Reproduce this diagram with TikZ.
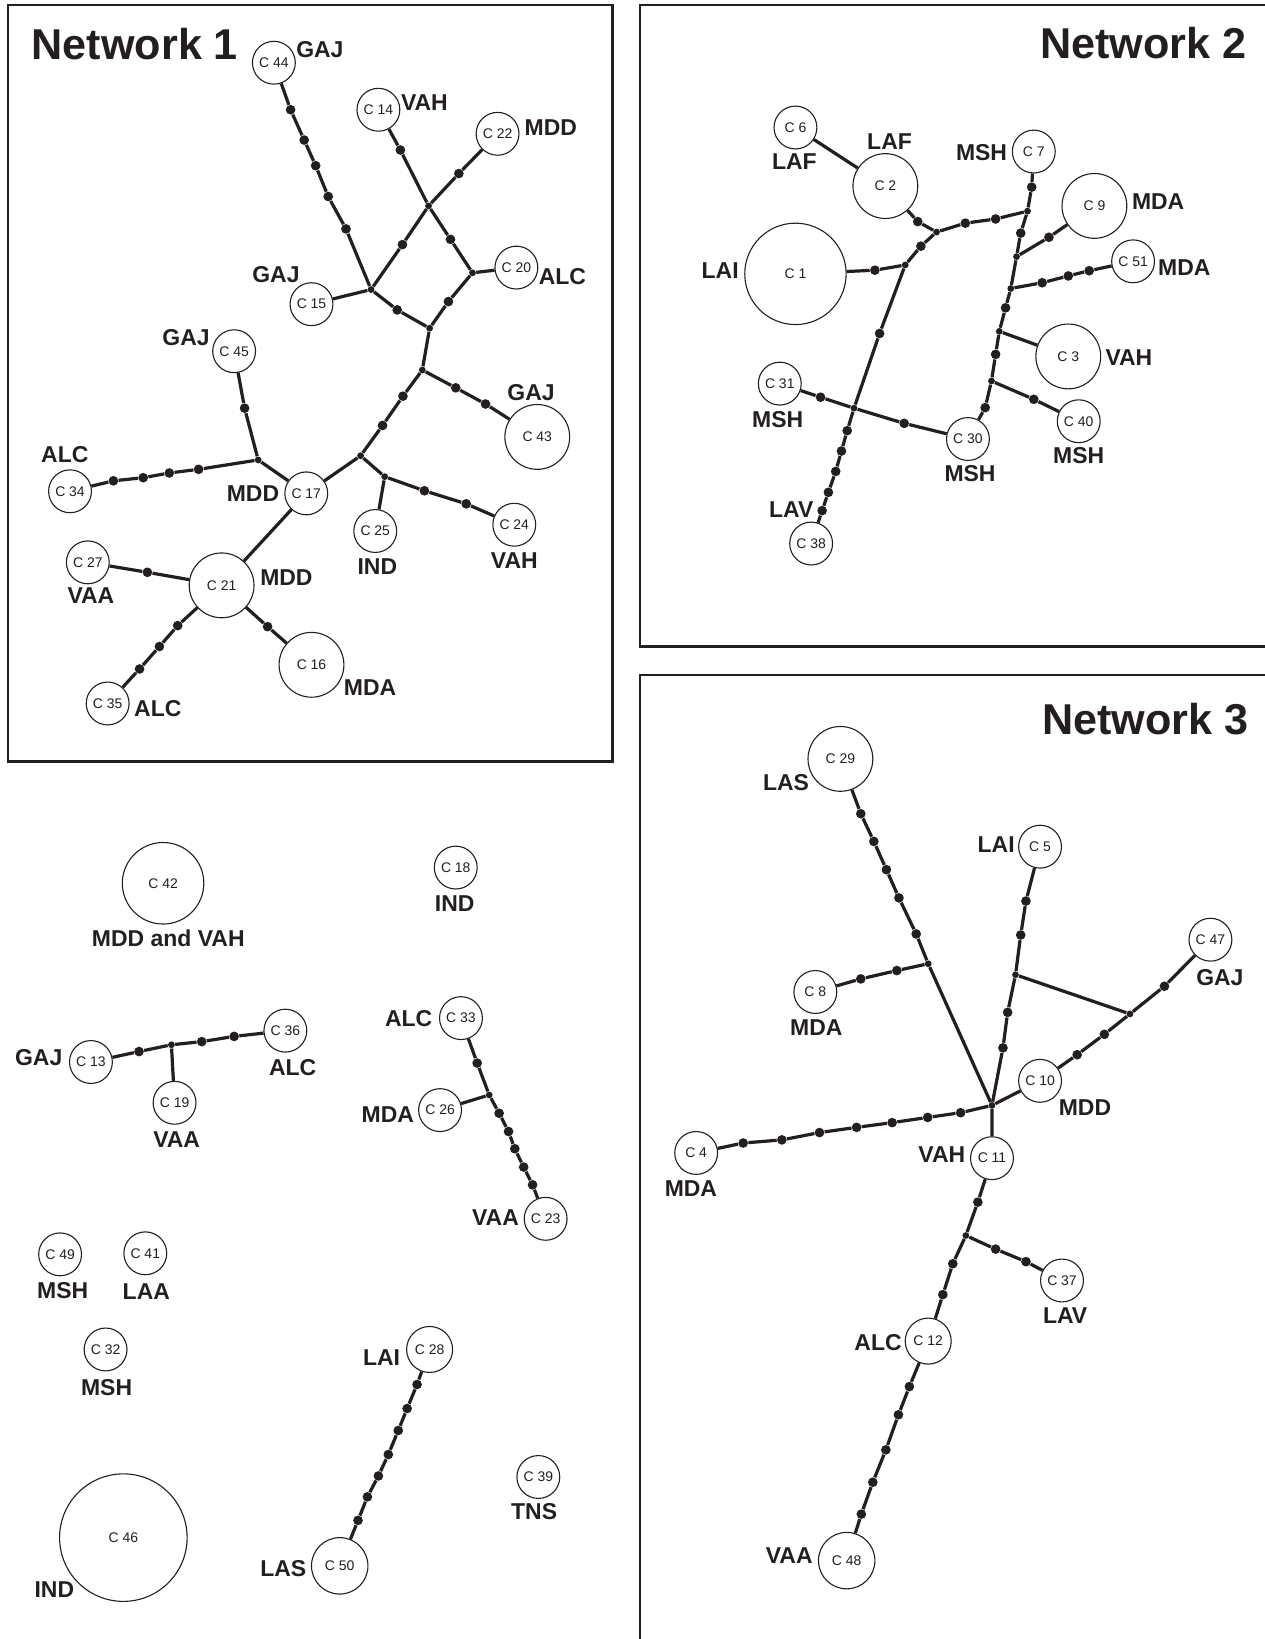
\documentclass[tikz,border=0pt]{standalone}
\usepackage{fontspec}
\setmainfont{Liberation Sans}
\usepackage{tikz}
\definecolor{ink}{HTML}{231F20}

\begin{document}
\begin{tikzpicture}[
    x=0.2mm, y=-0.2mm,
    hap/.style={circle, draw=ink, line width=0.6pt, fill=white, inner sep=0pt, minimum size=#1, text=ink, font=\fontsize{7.6}{8}\selectfont},
    hap/.default=8.2mm,
    mut/.style={circle, fill=ink, inner sep=0pt, minimum size=1.85mm},
    junc/.style={circle, fill=ink, inner sep=0pt, minimum size=1.3mm},
    link/.style={draw=ink, line width=1.75pt},
    poplabel/.style={inner sep=0pt, text=ink, font=\bfseries\fontsize{12.5}{14}\selectfont},
    nettitle/.style={inner sep=0pt, text=ink, font=\bfseries\fontsize{23.5}{26}\selectfont},
    netframe/.style={draw=ink, line width=1.4pt}
  ]
    \useasboundingbox (0,0) rectangle (1210,1568);
    \clip (0,0) rectangle (1210,1568);

    \draw[netframe] (7.6,4.8) rectangle (586,728.5);
    \draw[netframe] (612.3,4.8) rectangle (1240,618.5);
    \draw[netframe] (612.2,645.6) rectangle (1240,1600);
    \node[nettitle, anchor=west] (net1) at (30,42) {Network 1};
    \node[nettitle, anchor=east] (net2) at (1193,41) {Network 2};
    \node[nettitle, anchor=east] (net3) at (1195,688) {Network 3};

    % haplotypes
    \foreach \k/\x/\y in {44/262/60, 14/362/105, 22/476/128, 20/494/256, 15/298/291, 45/224/336,
        34/67/470, 17/293/472, 25/359/508, 24/492/502, 27/84/538, 35/103/673,
        6/761/122, 7/989/145, 51/1084/250, 31/746/367, 40/1032/403, 30/926/420, 38/776/520,
        5/995/810, 8/780/949, 47/1158/899, 10/995/1034, 4/666/1103, 11/949/1108, 37/1016/1225,
        18/436/830, 13/87/1016, 36/273/986, 19/167/1055, 33/441/974, 26/421/1062, 23/522/1166,
        49/57.5/1200, 41/139/1199, 32/101/1291, 39/515/1413}
      \node[hap] (c\k) at (\x,\y) {C \k};
    \foreach \k/\x/\y in {43/514/418, 21/212/560, 16/298/636, 2/847/178, 9/1047/197, 3/1022/341, 29/804/726}
      \node[hap=12.4mm] (c\k) at (\x,\y) {C \k};
    \foreach \k/\x/\y in {12/888/1283, 28/411/1291}
      \node[hap=8.8mm] (c\k) at (\x,\y) {C \k};
    \foreach \k/\x/\y in {48/810/1493, 50/325/1498}
      \node[hap=10.8mm] (c\k) at (\x,\y) {C \k};
    \node[hap=19.4mm] (c1) at (761,262) {C 1};
    \node[hap=15.6mm] (c42) at (156,845) {C 42};
    \node[hap=24.4mm] (c46) at (118,1471) {C 46};

    % populations
    \foreach \k/\x/\y/\t in {44/306/47/GAJ, 14/406/98/VAH, 22/527/122/MDD, 20/538/265/ALC, 15/264/263/GAJ,
        45/178/323/GAJ, 43/508/376/GAJ, 34/62/435/ALC, 17/242/472/MDD, 25/361/542/IND, 24/492/536/VAH,
        27/87/570/VAA, 21/274/553/MDD, 16/354/658/MDA, 35/151/678/ALC,
        6/760/155/LAF, 2/851/135/LAF, 7/939/146/MSH, 9/1108/193/MDA, 51/1133/256/MDA, 1/689/259/LAI,
        3/1080/342/VAH, 31/744/401/MSH, 40/1032/436/MSH, 30/928/453/MSH, 38/757/488/LAV,
        29/752/749/LAS, 5/953/808/LAI, 47/1167/935/GAJ, 8/781/983/MDA, 10/1038/1060/MDD,
        4/661/1137/MDA, 11/901/1105/VAH, 37/1019/1259/LAV, 12/840/1284/ALC, 48/755/1488/VAA,
        42/161/898/MDD and VAH, 18/435/864/IND, 13/37/1012/GAJ, 36/280/1021/ALC, 19/169/1090/VAA,
        33/391/974/ALC, 26/371/1066/MDA, 23/474/1165/VAA, 49/60/1235/MSH, 41/140/1236/LAA,
        32/102/1327/MSH, 46/52/1521/IND, 28/365/1299/LAI, 50/271/1501/LAS, 39/511/1446/TNS}
      \node[poplabel] (t\k) at (\x,\y) {\t};

    % median vectors
    \foreach \n/\x/\y in {jA/355/277, jB/410/197, jC/452/261, jD/411/314, jE/404/354, jF/345/436,
        jG/368/456, jH/247/440, j1/896/222, j2/983/202, j3/972.5/245.5, j4/967/276, j5/956/317,
        j6/948.5/364.5, k1/866/253.5, k2/817/390.5, q1/888/922, p0/949/1057.5, r1/971.5/932.5,
        r2/1081/970, s1/924/1182, l1/164/999.5, m1/468/1047.5}
      \node[junc] (\n) at (\x,\y) {};

    % mutation steps
    \foreach \n/\x/\y in {a1/278/105, a2/291/134, a3/302/158.5, a4/314/188, a5/331/219, a6/383/143.5,
        a7/431/229, a8/439/166, a9/385/234, a10/429/288.5, a11/380/296.5, a12/436/371, a13/464.5/386.5,
        a14/385.5/379, a15/366/407, a16/406/469.5, a17/446/482, a18/234/390.5, a19/190/449,
        a20/162/452.5, a21/137/457, a22/108.5/460, a23/141/547.5, a24/170/598.5, a25/152.5/618.5,
        a26/133.5/640, a27/256/599.5,
        b1/878/212, b2/923.5/213.5, b3/952.5/209.5, b4/987/179, b5/976.5/223, b6/1003.5/227,
        b7/997/270.5, b8/1022/264, b9/1042/259, b10/962/294.5, b11/952.5/339, b12/989/382,
        b13/942.5/390, b14/837/258.5, b15/881/235.5, b16/841.5/319, b17/785/380, b18/865/405,
        b19/810.5/412, b20/805/431.5, b21/799.5/451, b22/792.5/471, b23/786.5/488.5,
        e1/823.5/778.5, e2/836/805, e3/848/832, e4/860/859, e5/876.5/893.5, e6/823.5/936.5,
        e7/858/928.5, e8/981.5/862, e9/976.5/894.5, e10/964/968.5, e11/959.5/1002.5, e12/1114/943.5,
        e13/1056.5/989.5, e14/1030.5/1009, e15/711/1093.5, e16/748/1090.5, e17/784/1083.5,
        e18/819.5/1078.5, e19/853.5/1074, e20/887.5/1069, e21/919/1064.5, e22/935.5/1150,
        e23/952.5/1195, e24/981.5/1207, e25/911.5/1209, e26/902/1238.5, e27/870/1326.5,
        e28/859.5/1353.5, e29/847.5/1387, e30/835/1418, e31/824/1448.5,
        f1/133/1006, f2/193/996.5, f3/224/991.5, f4/456.5/1017, f5/477.5/1065, f6/486.5/1082.5,
        f7/492.5/1099, f8/501/1116.5, f9/509.5/1133.5, f10/399/1324.5, f11/389.5/1347.5,
        f12/381/1368.5, f13/371.5/1391.5, f14/362/1412, f15/351.5/1432, f16/342.5/1454.5}
      \node[mut] (\n) at (\x,\y) {};

    \draw[link] (c44) -- (a1) -- (a2) -- (a3) -- (a4) -- (a5) -- (jA);
    \draw[link] (c14) -- (a6) -- (jB) -- (a7) -- (jC) -- (c20);
    \draw[link] (c22) -- (a8) -- (jB) -- (a9) -- (jA);
    \draw[link] (jC) -- (a10) -- (jD);
    \draw[link] (c15) -- (jA) -- (a11) -- (jD) -- (jE);
    \draw[link] (jE) -- (a12) -- (a13) -- (c43);
    \draw[link] (jE) -- (a14) -- (a15) -- (jF) -- (c17);
    \draw[link] (jF) -- (jG) -- (c25);
    \draw[link] (jG) -- (a16) -- (a17) -- (c24);
    \draw[link] (c45) -- (a18) -- (jH) -- (c17) -- (c21);
    \draw[link] (jH) -- (a19) -- (a20) -- (a21) -- (a22) -- (c34);
    \draw[link] (c27) -- (a23) -- (c21);
    \draw[link] (c21) -- (a24) -- (a25) -- (a26) -- (c35);
    \draw[link] (c21) -- (a27) -- (c16);

    \draw[link] (c6) -- (c2) -- (b1) -- (j1) -- (b2) -- (b3) -- (j2);
    \draw[link] (c7) -- (b4) -- (j2) -- (b5) -- (j3) -- (j4) -- (b10) -- (j5) -- (b11) -- (j6) -- (b13) -- (c30);
    \draw[link] (j3) -- (b6) -- (c9);
    \draw[link] (j4) -- (b7) -- (b8) -- (b9) -- (c51);
    \draw[link] (j5) -- (c3);
    \draw[link] (j6) -- (b12) -- (c40);
    \draw[link] (c1) -- (b14) -- (k1);
    \draw[link] (j1) -- (b15) -- (k1) -- (b16) -- (k2) -- (b19) -- (b20) -- (b21) -- (b22) -- (b23) -- (c38);
    \draw[link] (c31) -- (b17) -- (k2) -- (b18) -- (c30);

    \draw[link] (c29) -- (e1) -- (e2) -- (e3) -- (e4) -- (e5) -- (q1) -- (p0);
    \draw[link] (c8) -- (e6) -- (e7) -- (q1);
    \draw[link] (c5) -- (e8) -- (e9) -- (r1) -- (e10) -- (e11) -- (p0);
    \draw[link] (r1) -- (r2);
    \draw[link] (c47) -- (e12) -- (r2) -- (e13) -- (e14) -- (c10) -- (p0);
    \draw[link] (c4) -- (e15) -- (e16) -- (e17) -- (e18) -- (e19) -- (e20) -- (e21) -- (p0);
    \draw[link] (p0) -- (c11) -- (e22) -- (s1) -- (e25) -- (e26) -- (c12) -- (e27) -- (e28) -- (e29) -- (e30) -- (e31) -- (c48);
    \draw[link] (s1) -- (e23) -- (e24) -- (c37);

    \draw[link] (c13) -- (f1) -- (l1) -- (f2) -- (f3) -- (c36);
    \draw[link] (l1) -- (c19);
    \draw[link] (c33) -- (f4) -- (m1) -- (f5) -- (f6) -- (f7) -- (f8) -- (f9) -- (c23);
    \draw[link] (c26) -- (m1);
    \draw[link] (c28) -- (f10) -- (f11) -- (f12) -- (f13) -- (f14) -- (f15) -- (f16) -- (c50);
\end{tikzpicture}
\end{document}
